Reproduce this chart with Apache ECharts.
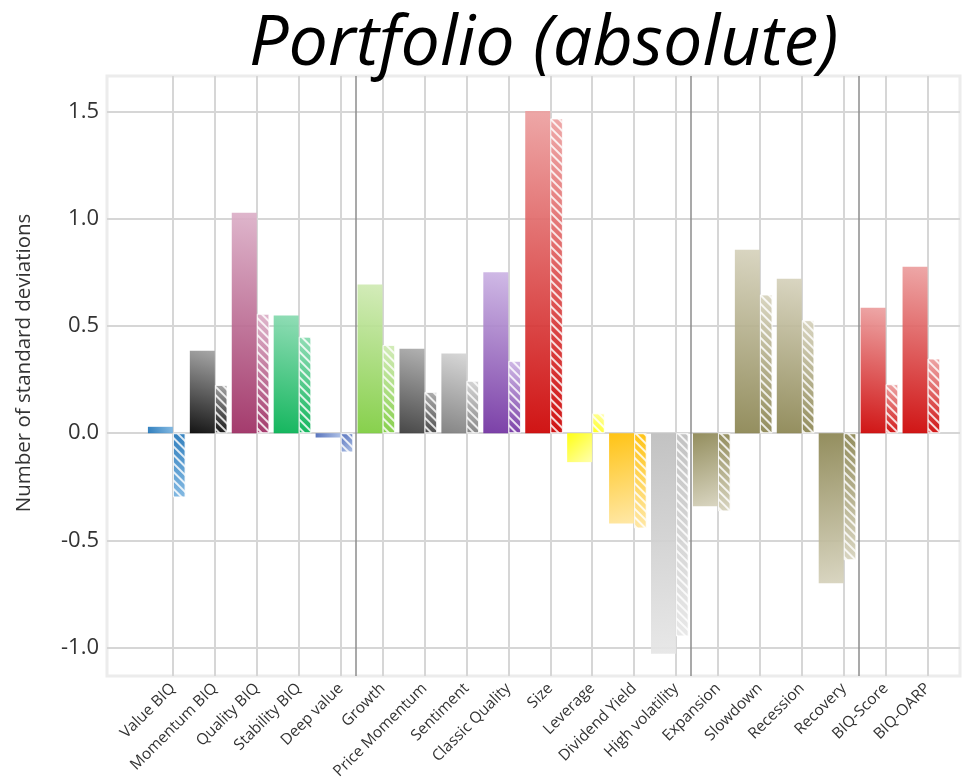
<!DOCTYPE html>
<html>
<head>
<meta charset="utf-8">
<script src="https://cdn.jsdelivr.net/npm/echarts@6/dist/echarts.min.js"></script>
<style>
html, body { margin: 0; padding: 0; background: #fff; }
#chart { width: 963px; height: 782px; }
</style>
</head>
<body>
<div id="chart"></div>
<script>
var categories = ['Value BIQ', 'Momentum BIQ', 'Quality BIQ', 'Stability BIQ', 'Deep value',
    'Growth', 'Price Momentum', 'Sentiment', 'Classic Quality', 'Size', 'Leverage',
    'Dividend Yield', 'High volatility', 'Expansion', 'Slowdown', 'Recession', 'Recovery',
    'BIQ-Score', 'BIQ-OARP'];
var solidValues = [0.03, 0.385, 1.03, 0.55, -0.02, 0.695, 0.395, 0.372, 0.752, 1.505,
    -0.135, -0.422, -1.03, -0.341, 0.857, 0.721, -0.70, 0.586, 0.777];
var hatchedValues = [-0.30, 0.225, 0.558, 0.451, -0.09, 0.412, 0.193, 0.245, 0.338, 1.47,
    0.093, -0.445, -0.949, -0.365, 0.648, 0.528, -0.593, 0.229, 0.349];
var yTickValues = [-1, -0.5, 0, 0.5, 1, 1.5];
var groupEnds = [4, 12, 16];
var baseColors = ['#1f74b8', '#000000', '#9c2a60', '#00b050', '#4a68b8', '#7ccc3c', '#383838',
    '#7a7a7a', '#7030a0', '#cc0000', '#ffff00', '#ffbe00', '#bdbdbd', '#8a8450', '#8a8450',
    '#8a8450', '#8a8450', '#cc0000', '#cc0000'];
var tipColors = ['#7ab4e0', '#a0a0a0', '#dcb0c8', '#88dab0', '#a8bce4', '#d0eab4', '#ababab',
    '#d4d4d4', '#ccb4e4', '#eca0a0', '#ffffa8', '#ffe6a0', '#e6e6e6', '#d6d2bc', '#d6d2bc',
    '#d6d2bc', '#d6d2bc', '#eca0a0', '#eca0a0'];

var xMin = -1.574, xMax = 18.772;
var yMin = -1.133, yMax = 1.668;
var tickIdx = categories.map(function (c, i) { return i; });

function barGradient(i, v) {
    var up = v >= 0;
    return new echarts.graphic.LinearGradient(0, up ? 1 : 0, 1, up ? 0 : 1, [
        { offset: 0, color: baseColors[i] },
        { offset: 1, color: tipColors[i] }
    ]);
}

var solidData = solidValues.map(function (v, i) {
    return { value: [i - 0.3, v], itemStyle: { color: barGradient(i, v) } };
});
var hatchedData = hatchedValues.map(function (v, i) {
    return { value: [i + 0.15, v], itemStyle: { color: barGradient(i, v) } };
});

var chart = echarts.init(document.getElementById('chart'));
var option = {
    backgroundColor: '#fff',
    animation: false,
    title: {
        text: 'Portfolio (absolute)',
        left: 244,
        top: 5,
        textStyle: { fontFamily: 'Open Sans', fontStyle: 'italic', fontWeight: 'normal', fontSize: 70, color: '#000' }
    },
    grid: {
        left: 107, right: 3, top: 76, bottom: 104,
        show: true, backgroundColor: '#fff', borderColor: '#ececec', borderWidth: 3
    },
    xAxis: [{
        type: 'value', min: xMin, max: xMax,
        axisLine: { show: false },
        axisTick: { show: false, customValues: tickIdx },
        axisLabel: {
            customValues: tickIdx, rotate: 45, margin: 10,
            fontFamily: 'Open Sans', fontSize: 15.5, color: '#333',
            formatter: function (v) { return categories[Math.round(v)]; }
        },
        splitLine: { show: true, lineStyle: { color: '#d6d6d6', width: 2 } }
    }, {
        type: 'value', min: xMin, max: xMax, show: false
    }],
    yAxis: {
        type: 'value', min: yMin, max: yMax,
        name: 'Number of standard deviations',
        nameLocation: 'middle', nameGap: 72,
        nameTextStyle: { fontFamily: 'Open Sans', fontSize: 20.5, color: '#333', padding: [0, 0, 0, 26] },
        axisLine: { show: false },
        axisTick: { show: false, customValues: yTickValues },
        axisLabel: {
            customValues: yTickValues, margin: 8,
            fontFamily: 'Open Sans', fontSize: 22, color: '#333',
            formatter: function (v) { return v.toFixed(1); }
        },
        splitLine: { show: true, lineStyle: { color: '#d6d6d6', width: 2 } }
    },
    series: [{
        name: 'Portfolio',
        type: 'bar',
        xAxisIndex: 0,
        barWidth: 25,
        data: solidData,
        itemStyle: { opacity: 0.92 },
        markLine: {
            silent: true,
            symbol: 'none',
            label: { show: false },
            lineStyle: { color: '#8c8c8c', width: 1.5, type: 'solid' },
            data: groupEnds.map(function (g) { return { xAxis: g + 0.35 }; })
        }
    }, {
        name: 'Hatched',
        type: 'bar',
        xAxisIndex: 1,
        barWidth: 12.6,
        data: hatchedData,
        itemStyle: {
            opacity: 0.92,
            borderColor: 'rgba(255,255,255,0.6)',
            borderWidth: 1,
            decal: {
                symbol: 'rect',
                color: 'rgba(255,255,255,0.9)',
                dashArrayX: [1, 0],
                dashArrayY: [2, 4],
                rotation: Math.PI / 4
            }
        }
    }]
};
chart.setOption(option);
</script>
</body>
</html>
